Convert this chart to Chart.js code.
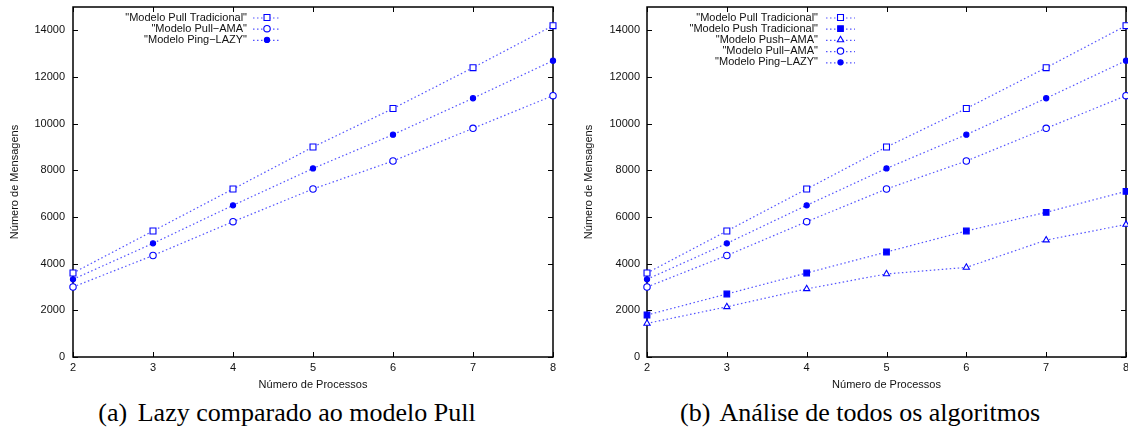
<!DOCTYPE html>
<html>
<head>
<meta charset="utf-8">
<script src="https://cdn.jsdelivr.net/npm/chart.js"></script>
<style>
  body { margin: 0; background: #fff; width: 1128px; height: 436px; overflow: hidden; position: relative; }
  .box { position: absolute; top: 0; height: 395px; }
  .cap { position: absolute; top: 398px; font: 26px "Liberation Serif", "Times New Roman", serif; line-height: 30px; text-align: center; color: #000; }
  .cap span { margin-right: 4px; }
</style>
</head>
<body>
<div class="box" style="left:0;width:564px"><canvas id="chartA" width="564" height="395"></canvas></div>
<div class="box" style="left:564px;width:572px"><canvas id="chartB" width="572" height="395"></canvas></div>
<div class="cap" style="left:0;width:574px"><span>(a)</span> Lazy comparado ao modelo Pull</div>
<div class="cap" style="left:592px;width:536px"><span>(b)</span> Análise de todos os algoritmos</div>
<script>
// values
const processos = ["2", "3", "4", "5", "6", "7", "8"];
const pullTradicional = [3600, 5400, 7200, 9000, 10650, 12400, 14200];
const pushTradicional = [1800, 2700, 3600, 4500, 5400, 6200, 7100];
const pushAMA = [1440, 2150, 2920, 3560, 3840, 5010, 5680];
const pullAMA = [3000, 4350, 5800, 7200, 8400, 9800, 11200];
const pingLazy = [3330, 4870, 6500, 8080, 9530, 11090, 12700];
const yTicks = [0, 2000, 4000, 6000, 8000, 10000, 12000, 14000];

const BLUE = "#0000ff";
const FONT = "'Liberation Sans', Arial, sans-serif";

function serie(label, values, style, radius, filled) {
  return {
    label: label,
    data: values,
    borderColor: "rgba(40,40,255,0.8)",
    borderWidth: 1.2,
    borderDash: [1.5, 2.5],
    pointStyle: style,
    pointRadius: radius,
    pointHoverRadius: radius,
    pointBorderWidth: 1.1,
    pointBorderColor: BLUE,
    pointBackgroundColor: filled ? BLUE : "#fff",
    tension: 0,
    clip: false,
  };
}

// gnuplot style box with inward ticks
const frameTicks = {
  id: "frameTicks",
  beforeDatasetsDraw(chart) {
    const { ctx, chartArea: a, scales } = chart;
    ctx.save();
    ctx.strokeStyle = "#000";
    ctx.lineWidth = 1.5;
    ctx.strokeRect(a.left, a.top, a.right - a.left, a.bottom - a.top);
    ctx.lineWidth = 1;
    ctx.beginPath();
    scales.y.ticks.forEach((t) => {
      const y = Math.round(scales.y.getPixelForValue(t.value)) + 0.5;
      ctx.moveTo(a.left, y); ctx.lineTo(a.left + 5, y);
      ctx.moveTo(a.right, y); ctx.lineTo(a.right - 5, y);
    });
    scales.x.ticks.forEach((t, i) => {
      const x = Math.round(scales.x.getPixelForTick(i)) + 0.5;
      ctx.moveTo(x, a.bottom); ctx.lineTo(x, a.bottom - 5);
      ctx.moveTo(x, a.top); ctx.lineTo(x, a.top + 5);
    });
    ctx.stroke();
    ctx.restore();
  },
};

function marker(ctx, ds, x, y) {
  const r = ds.pointRadius;
  ctx.beginPath();
  if (ds.pointStyle === "rect") {
    const s = r * Math.SQRT1_2;
    ctx.rect(x - s, y - s, 2 * s, 2 * s);
  } else if (ds.pointStyle === "triangle") {
    ctx.moveTo(x, y - r);
    ctx.lineTo(x + r * 0.87, y + r * 0.5);
    ctx.lineTo(x - r * 0.87, y + r * 0.5);
    ctx.closePath();
  } else {
    ctx.arc(x, y, r, 0, Math.PI * 2);
  }
  ctx.fillStyle = ds.pointBackgroundColor;
  ctx.fill();
  ctx.lineWidth = ds.pointBorderWidth;
  ctx.strokeStyle = ds.pointBorderColor;
  ctx.stroke();
}

// key drawn inside the plot, text right aligned like gnuplot
const innerKey = {
  id: "innerKey",
  afterDatasetsDraw(chart, args, opts) {
    const ctx = chart.ctx;
    ctx.save();
    ctx.font = "11px " + FONT;
    ctx.textAlign = "right";
    ctx.textBaseline = "middle";
    chart.data.datasets.forEach((ds, i) => {
      const y = opts.top + i * opts.row;
      ctx.fillStyle = "#111";
      ctx.fillText('"' + ds.label + '"', opts.textRight, y);
      ctx.setLineDash(ds.borderDash);
      ctx.strokeStyle = ds.borderColor;
      ctx.lineWidth = ds.borderWidth;
      ctx.beginPath();
      ctx.moveTo(opts.sampleLeft, y + 0.5);
      ctx.lineTo(opts.sampleRight, y + 0.5);
      ctx.stroke();
      ctx.setLineDash([]);
      marker(ctx, ds, (opts.sampleLeft + opts.sampleRight) / 2, y);
    });
    ctx.restore();
  },
};

function options(yWidth, labelPad, titlePad, padRight, key) {
  return {
    responsive: false,
    animation: false,
    layout: { padding: { left: 0, top: 7, right: padRight, bottom: 0 } },
    plugins: {
      legend: { display: false },
      tooltip: { enabled: false },
      innerKey: key,
    },
    scales: {
      x: {
        type: "category",
        offset: false,
        grid: { display: false, drawTicks: false },
        border: { display: false },
        ticks: { color: "#111", font: { family: FONT, size: 11 }, padding: 4, maxRotation: 0, autoSkip: false },
        title: { display: true, text: "Número de Processos", color: "#111", font: { family: FONT, size: 11 }, padding: { top: 0, bottom: 3 } },
        afterFit: (s) => { s.height = 38; s.paddingLeft = 0; s.paddingRight = 0; },
      },
      y: {
        min: 0,
        max: 15000,
        grid: { display: false, drawTicks: false },
        border: { display: false },
        ticks: { color: "#111", font: { family: FONT, size: 11 }, padding: labelPad, callback: (v) => String(v) },
        afterBuildTicks: (s) => { s.ticks = yTicks.map((v) => ({ value: v })); },
        title: { display: true, text: "Número de Mensagens", color: "#111", font: { family: FONT, size: 11 }, padding: { top: titlePad, bottom: 0 } },
        afterFit: (s) => { s.width = yWidth; s.paddingTop = 0; s.paddingBottom = 0; },
      },
    },
  };
}

new Chart(document.getElementById("chartA"), {
  type: "line",
  data: {
    labels: processos,
    datasets: [
      serie("Modelo Pull Tradicional", pullTradicional, "rect", 4.2, false),
      serie("Modelo Pull\u2212AMA", pullAMA, "circle", 3.2, false),
      serie("Modelo Ping\u2212LAZY", pingLazy, "circle", 2.6, true),
    ],
  },
  options: options(73, 8, 8.4, 11, { textRight: 247, sampleLeft: 253, sampleRight: 281, top: 17.5, row: 11.2 }),
  plugins: [frameTicks, innerKey],
});

new Chart(document.getElementById("chartB"), {
  type: "line",
  data: {
    labels: processos,
    datasets: [
      serie("Modelo Pull Tradicional", pullTradicional, "rect", 4.2, false),
      serie("Modelo Push Tradicional", pushTradicional, "rect", 4, true),
      serie("Modelo Push\u2212AMA", pushAMA, "triangle", 3.6, false),
      serie("Modelo Pull\u2212AMA", pullAMA, "circle", 3.2, false),
      serie("Modelo Ping\u2212LAZY", pingLazy, "circle", 2.6, true),
    ],
  },
  options: options(83, 7, 18.4, 10, { textRight: 254, sampleLeft: 262, sampleRight: 291, top: 17.5, row: 11.2 }),
  plugins: [frameTicks, innerKey],
});
</script>
</body>
</html>
